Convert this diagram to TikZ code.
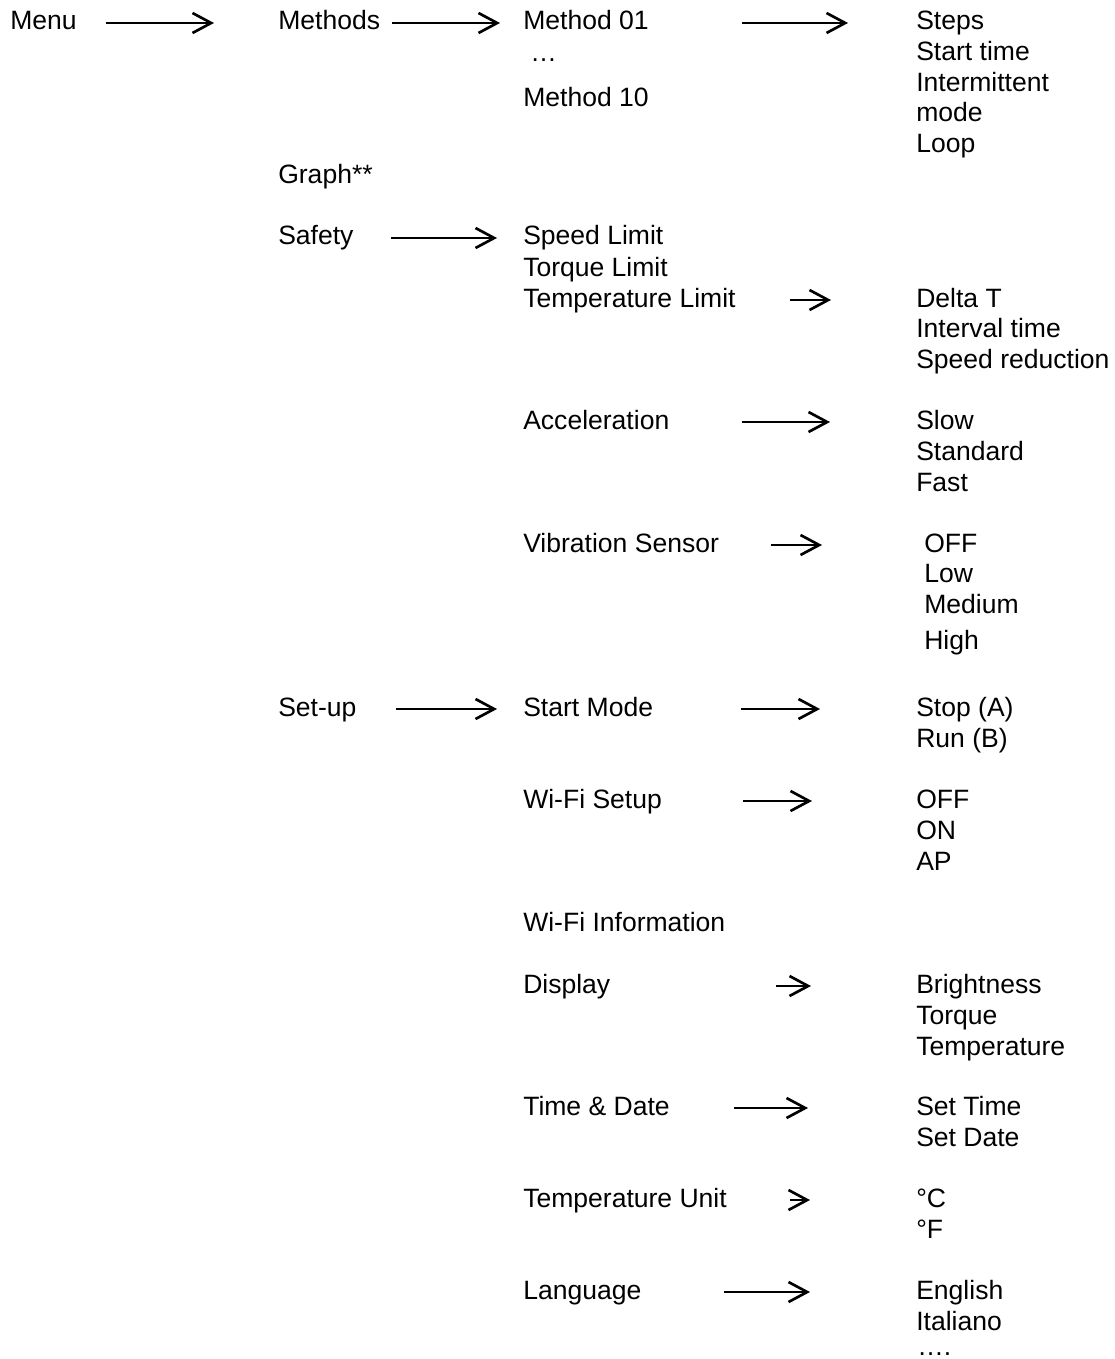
\documentclass[tikz,border=0pt]{standalone}
\usepackage{fontspec}
\setmainfont{Liberation Sans}
\usetikzlibrary{arrows.meta,calc}

\begin{document}
\begin{tikzpicture}[x=0.75pt,y=-0.75pt,>={Straight Barb[length=14pt,width=15pt]},
    item/.style={anchor=base west,inner sep=0pt,text height=16pt,text depth=5.5pt,
      font=\fontsize{19.9pt}{23.25pt}\selectfont},
    arr/.style={->,line width=2pt}]
  \useasboundingbox (0,-2) rectangle (1114,1357);
  % first two levels
  \node[item] (menu) at (10,28) {Menu};
  \node[item] (methods) at (278,28) {Methods};
  \node[item] (graph) at (278,182) {Graph**};
  \node[item] (safety) at (278,243) {Safety};
  \node[item] (setup) at (278,714) {Set-up};
  % methods
  \node[item] (m01) at (523,28) {Method 01};
  \node[item] (mdots) at (530,60) {…};
  \node[item] (m10) at (523,105) {Method 10};
  \node[item] (steps) at (916,28) {Steps};
  \node[item] (starttime) at (916,59) {Start time};
  \node[item] (intermit) at (916,90) {Intermittent};
  \node[item] (imode) at (916,120) {mode};
  \node[item] (loop) at (916,151) {Loop};
  % safety
  \node[item] (speedlim) at (523,243) {Speed Limit};
  \node[item] (torquelim) at (523,274) {Torque Limit};
  \node[item] (templim) at (523,305) {Temperature Limit};
  \node[item] (deltat) at (916,305) {Delta T};
  \node[item] (interval) at (916,335) {Interval time};
  \node[item] (speedred) at (916,366) {Speed reduction};
  \node[item] (accel) at (523,427) {Acceleration};
  \node[item] (slow) at (916,427) {Slow};
  \node[item] (standard) at (916,458) {Standard};
  \node[item] (fast) at (916,489) {Fast};
  \node[item] (vibr) at (523,550) {Vibration Sensor};
  \node[item] (voff) at (924,550) {OFF};
  \node[item] (vlow) at (924,580) {Low};
  \node[item] (vmed) at (924,611) {Medium};
  \node[item] (vhigh) at (924,647) {High};
  % set-up
  \node[item] (startmode) at (523,714) {Start Mode};
  \node[item] (stopa) at (916,714) {Stop (A)};
  \node[item] (runb) at (916,745) {Run (B)};
  \node[item] (wifiset) at (523,806) {Wi-Fi Setup};
  \node[item] (woff) at (916,806) {OFF};
  \node[item] (won) at (916,837) {ON};
  \node[item] (wap) at (916,868) {AP};
  \node[item] (wifiinfo) at (523,929) {Wi-Fi Information};
  \node[item] (display) at (523,991) {Display};
  \node[item] (bright) at (916,991) {Brightness};
  \node[item] (dtorque) at (916,1022) {Torque};
  \node[item] (dtemp) at (916,1053) {Temperature};
  \node[item] (timedate) at (523,1113) {Time \& Date};
  \node[item] (settime) at (916,1113) {Set Time};
  \node[item] (setdate) at (916,1144) {Set Date};
  \node[item] (tempunit) at (523,1205) {Temperature Unit};
  \node[item] (degc) at (916,1205) {°C};
  \node[item] (degf) at (916,1236) {°F};
  \node[item] (lang) at (523,1297) {Language};
  \node[item] (english) at (916,1297) {English};
  \node[item] (italiano) at (916,1328) {Italiano};
  \node[item] (ldots) at (917,1353) {….};
  % arrows, gaps in px
  \draw[arr] ($(menu.east)+(29,0)$) -- ($(methods.west)-(64,0)$);
  \draw[arr] ($(methods.east)+(12,0)$) -- ($(m01.west)-(23,0)$);
  \draw[arr] ($(m01.east)+(93,0)$) -- ($(steps.west)-(68,0)$);
  \draw[arr] ($(safety.east)+(37,0)$) -- ($(speedlim.west)-(26,0)$);
  \draw[arr] ($(templim.east)+(54,0)$) -- ($(deltat.west)-(85,0)$);
  \draw[arr] ($(accel.east)+(72,0)$) -- ($(slow.west)-(86,0)$);
  \draw[arr] ($(vibr.east)+(52,0)$) -- ($(voff.west)-(102,0)$);
  \draw[arr] ($(setup.east)+(39,0)$) -- ($(startmode.west)-(26,0)$);
  \draw[arr] ($(startmode.east)+(88,0)$) -- ($(stopa.west)-(96,0)$);
  \draw[arr] ($(wifiset.east)+(81,0)$) -- ($(woff.west)-(104,0)$);
  \draw[arr] ($(display.east)+(165,0)$) -- ($(bright.west)-(105,0)$);
  \draw[arr] ($(timedate.east)+(64,0)$) -- ($(settime.west)-(108,0)$);
  \draw[arr] ($(tempunit.east)+(63,0)$) -- ($(degc.west)-(106,0)$);
  \draw[arr] ($(lang.east)+(82,0)$) -- ($(english.west)-(106,0)$);
\end{tikzpicture}
\end{document}
